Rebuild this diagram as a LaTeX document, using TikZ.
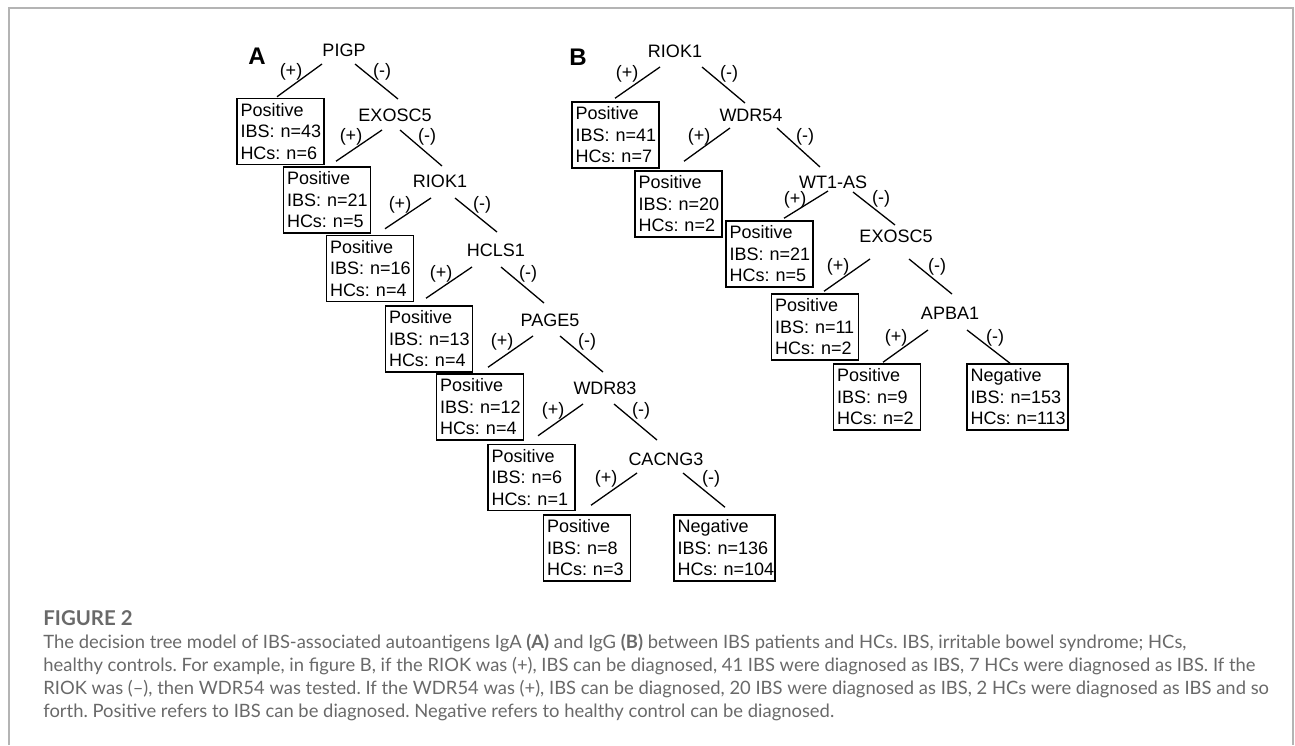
\documentclass[tikz,border=0pt]{standalone}
\usepackage{fontspec}
\setmainfont{Liberation Sans}
\newfontfamily\capfont{Lato}
\usetikzlibrary{calc}
\definecolor{capgray}{RGB}{105,105,105}
\definecolor{framegray}{RGB}{180,180,180}
\frenchspacing
\begin{document}
\begin{tikzpicture}[x=0.5pt,y=-0.5pt,
  treefont/.style={font=\fontsize{9}{10.75}\selectfont},
  gene/.style={treefont,inner sep=0pt},
  sign/.style={treefont,inner sep=0pt},
  leaf/.style={draw,line width=0.75pt,treefont,align=left,text width=40pt,inner xsep=1.75pt,inner ysep=0pt,minimum height=33pt},
  negleaf/.style={leaf,text width=47pt,inner xsep=1.75pt},
  conn/.style={line width=0.65pt},
  panel/.style={font=\bfseries\fontsize{12}{14}\selectfont,inner sep=0pt},
  captext/.style={font=\capfont\fontsize{9.2}{11}\selectfont,text=capgray,inner sep=0pt,anchor=base west}]
\useasboundingbox (0,0) rectangle (1295,745);
\draw[framegray,line width=0.75pt] (9,745) -- (9,8) -- (1293,8) -- (1293,745);

% ---------------- Panel A ----------------
\node[panel] (pA) at (257,56) {A};
\node[gene] (gA1) at (344,50) {PIGP};
\node[gene] (gA2) at (395,115) {EXOSC5};
\node[gene] (gA3) at (440,181) {RIOK1};
\node[gene] (gA4) at (496,250) {HCLS1};
\node[gene] (gA5) at (550,320) {PAGE5};
\node[gene] (gA6) at (605,388) {WDR83};
\node[gene] (gA7) at (666,459) {CACNG3};

\node[leaf] (bA1) at (280.5,131.5) {Positive\\IBS:~n=43\\HCs:~n=6};
\node[leaf] (bA2) at (327,200) {Positive\\IBS:~n=21\\HCs:~n=5};
\node[leaf] (bA3) at (370,268.5) {Positive\\IBS:~n=16\\HCs:~n=4};
\node[leaf] (bA4) at (429,339) {Positive\\IBS:~n=13\\HCs:~n=4};
\node[leaf] (bA5) at (480,407) {Positive\\IBS:~n=12\\HCs:~n=4};
\node[leaf] (bA6) at (531.5,477.5) {Positive\\IBS:~n=6\\HCs:~n=1};
\node[leaf] (bA7) at (587,548) {Positive\\IBS:~n=8\\HCs:~n=3};
\node[negleaf] (bA8) at (724.5,548) {Negative\\IBS:~n=136\\HCs:~n=104};

% (+) branches
\draw[conn] ($(gA1)+(-22,14)$) -- ($(bA1.north)+(-3.5,-1)$);
\draw[conn] ($(gA2)+(-13,15)$) -- ($(bA2.north)+(9,-5)$);
\draw[conn] ($(gA3)+(-9,17)$) -- ($(bA3.north)+(15,-6)$);
\draw[conn] ($(gA4)+(-24,17)$) -- ($(bA4.north)+(-3,-7)$);
\draw[conn] ($(gA5)+(-17,16)$) -- ($(bA5.north)+(8,-6)$);
\draw[conn] ($(gA6)+(-22,16)$) -- ($(bA6.north)+(6.5,-8)$);
\draw[conn] ($(gA7)+(-29,14)$) -- ($(bA7.north)+(4,-9)$);
% (-) branches
\draw[conn] ($(gA1)+(11,14)$) -- ($(gA2)+(3,-16)$);
\draw[conn] ($(gA2)+(5,15)$) -- ($(gA3)+(2,-15)$);
\draw[conn] ($(gA3)+(15,17)$) -- ($(gA4)+(1,-18)$);
\draw[conn] ($(gA4)+(5,17)$) -- ($(gA5)+(-6,-17)$);
\draw[conn] ($(gA5)+(10,16)$) -- ($(gA6)+(-2,-16)$);
\draw[conn] ($(gA6)+(9,16)$) -- ($(gA7)+(-9,-19)$);
\draw[conn] ($(gA7)+(17,14)$) -- ($(bA8.north)+(0.5,-7)$);

\node[sign] (pA1) at (291,72) {(+)};
\node[sign] (pA2) at (351,137) {(+)};
\node[sign] (pA3) at (400,205) {(+)};
\node[sign] (pA4) at (441,274) {(+)};
\node[sign] (pA5) at (502,342) {(+)};
\node[sign] (pA6) at (553,411) {(+)};
\node[sign] (pA7) at (606,479) {(+)};
\node[sign] (mA1) at (382,72) {(-)};
\node[sign] (mA2) at (427,137) {(-)};
\node[sign] (mA3) at (482,205) {(-)};
\node[sign] (mA4) at (528,274) {(-)};
\node[sign] (mA5) at (587,342) {(-)};
\node[sign] (mA6) at (641,411) {(-)};
\node[sign] (mA7) at (711,479) {(-)};

% ---------------- Panel B ----------------
\node[panel] (pB) at (578,57) {B};
\node[gene] (gB1) at (675,51) {RIOK1};
\node[gene] (gB2) at (751,115) {WDR54};
\node[gene] (gB3) at (833,182) {WT1-AS};
\node[gene] (gB4) at (896,236) {EXOSC5};
\node[gene] (gB5) at (950,313) {APBA1};

\node[leaf] (bB1) at (615.5,135) {Positive\\IBS:~n=41\\HCs:~n=7};
\node[leaf] (bB2) at (678.5,204) {Positive\\IBS:~n=20\\HCs:~n=2};
\node[leaf] (bB3) at (769.5,254) {Positive\\IBS:~n=21\\HCs:~n=5};
\node[leaf] (bB4) at (815,327) {Positive\\IBS:~n=11\\HCs:~n=2};
\node[leaf] (bB5) at (877,397) {Positive\\IBS:~n=9\\HCs:~n=2};
\node[negleaf] (bB6) at (1017.5,397) {Negative\\IBS:~n=153\\HCs:~n=113};

\draw[conn] ($(gB1)+(-15,16)$) -- ($(bB1.north)+(-0.5,-3)$);
\draw[conn] ($(gB2)+(-21,13)$) -- ($(bB2.north)+(5.5,-9)$);
\draw[conn] ($(gB3)+(-5,9)$) -- ($(bB3.north)+(14.5,-2)$);
\draw[conn] ($(gB4)+(-26,23)$) -- ($(bB4.north)+(9,-2)$);
\draw[conn] ($(gB5)+(-22,17)$) -- ($(bB5.north)+(6,-1)$);
\draw[conn] ($(gB1)+(27,16)$) -- ($(gB2)+(-6,-12)$);
\draw[conn] ($(gB2)+(26,13)$) -- ($(gB3)+(-13,-15)$);
\draw[conn] ($(gB3)+(20,10)$) -- ($(gB4)+(-1,-11)$);
\draw[conn] ($(gB4)+(13,23)$) -- ($(gB5)+(2,-19)$);
\draw[conn] ($(gB5)+(17,17)$) -- ($(bB6.north)+(-7.5,0)$);

\node[sign] (pB1) at (627,74) {(+)};
\node[sign] (pB2) at (699,137) {(+)};
\node[sign] (pB3) at (795,200) {(+)};
\node[sign] (pB4) at (838,267) {(+)};
\node[sign] (pB5) at (896,338) {(+)};
\node[sign] (mB1) at (729,74) {(-)};
\node[sign] (mB2) at (805,137) {(-)};
\node[sign] (mB3) at (881,199) {(-)};
\node[sign] (mB4) at (937,267) {(-)};
\node[sign] (mB5) at (995,338) {(-)};

% ---------------- Caption ----------------
\node[captext,font=\capfont\bfseries\fontsize{10.2}{12}\selectfont] (fig) at (43,625) {FIGURE 2};
\node[captext] (c1) at (43,648) {The decision tree model of IBS-associated autoantigens IgA \textbf{(A)} and IgG \textbf{(B)} between IBS patients and HCs. IBS, irritable bowel syndrome; HCs,};
\node[captext] (c2) at (43,671) {healthy controls. For example, in figure B, if the RIOK was (+), IBS can be diagnosed, 41 IBS were diagnosed as IBS, 7 HCs were diagnosed as IBS. If the};
\node[captext] (c3) at (43,694) {RIOK was (–), then WDR54 was tested. If the WDR54 was (+), IBS can be diagnosed, 20 IBS were diagnosed as IBS, 2 HCs were diagnosed as IBS and so};
\node[captext] (c4) at (43,717) {forth. Positive refers to IBS can be diagnosed. Negative refers to healthy control can be diagnosed.};
\end{tikzpicture}
\end{document}
